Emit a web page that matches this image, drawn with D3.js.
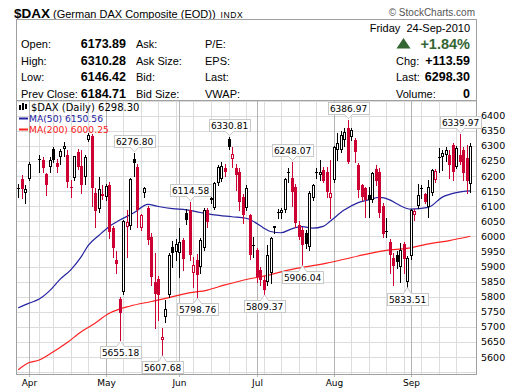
<!DOCTYPE html>
<html><head><meta charset="utf-8">
<script src="https://cdn.jsdelivr.net/npm/d3@7"></script>
<style>body{margin:0;background:#fff}svg{display:block}</style>
</head><body>
<svg id="c" width="520" height="391"></svg>
<script>
// ---------------- data ----------------
const firstDay = "2010-03-29";
const lastDay = "2010-09-24";
const holidays = ["2010-04-02", "2010-04-05"];
const padDays = 2;

const opens = [6158,6189,6144,6191,6254,6253,6207,6231,6288,6243,6262,6288,6270,6160,6192,6280,6233,6198,6320,6333,
6145,6090,6140,6131,6170,6027,5921,5791,5815,6030,6035,6255,6230,6027,6145,6093,5999,5850,5858,5658,
5734,5805,5966,5949,5945,5988,6076,6087,5877,5921,5899,5960,6087,6120,6093,6176,6190,6225,6322,6255,
6225,6214,6131,6095,6071,5968,5955,5888,5855,5850,5877,6027,6080,6076,6087,6210,6192,6165,6037,6020,
6010,5966,6126,6212,6205,6220,6215,6126,6187,6286,6286,6320,6358,6328,6319,6236,6170,6159,6137,6120,
6222,6212,6100,6017,5982,5927,5938,5899,5975,5848,5935,6071,6100,6157,6140,6098,6143,6187,6262,6264,
6270,6270,6303,6231,6270,6286,6259,6173.89];
const highs = [6172,6203,6170,6248,6270,6264,6210,6262,6295,6255,6290,6312,6286,6187,6268,6290,6286,6270,6341,6340,
6160,6198,6170,6175,6180,6035,5950,5800,6055,6087,6195,6276.80,6240,6075,6165,6100,6010,5945,5870,5695,
5789,5945,5985,5990,6027,5995,6090,6114.58,5933,5940,5995,6095,6095,6135,6180,6235,6245,6240,6330.81,6297,
6240,6225,6140,6170,6075,5999,5960,5900,5868,5972,5999,6035,6090,6095,6195,6225,6248.07,6175,6050,6030,
6020,6150,6175,6225,6253,6230,6230,6253,6300,6341,6350,6360,6386.97,6360,6325,6242,6175,6165,6165,6215,
6235,6228,6110,6060,5990,5944,5950,5977,5982,5935,6092,6092,6175,6170,6143,6187,6222,6222,6292,6286,
6295,6286,6309,6300,6339.97,6295,6303,6310.28];
const lows = [6131,6126,6110,6187,6214,6214,6137,6215,6248,6215,6240,6268,6165,6131,6188,6222,6143,6175,6315,6100,
6030,6082,6125,6120,5995,5930,5880,5655.18,5810,5933,6025,6200,6030,6020,6130,5975,5840,5695,5722,5607.68,
5717,5800,5900,5920,5866,5888,6040,5920,5833,5798.76,5880,5955,6030,6110,6090,6170,6185,6200,6290,6231,
6154,6087,6043,6088,5925,5932,5850,5840,5809.37,5838,5844,6010,6060,6060,6080,6180,6100,6030,5990,5906.04,
5960,5955,6120,6195,6187,6180,6130,6060,6180,6253,6280,6300,6242,6320,6248,6132,6120,6065,6065,6115,
6170,6065,5998,5999,5880,5838,5895,5850,5880,5833.51,5925,6055,6093,6126,6110,6065,6137,6180,6215,6220,
6250,6192,6187,6225,6240,6187,6143,6146.42];
const closes = [6160,6156,6158,6240,6256,6225,6171,6252,6254,6231,6283,6298,6181,6165,6266,6231,6170,6262,6336,6160,
6085,6158,6135,6166,6015,5960,5908,5745,6050,6046,6189,6243,6087,6071,6159,5988,5866,5810,5805,5667,
5758,5938,5946,5975,5982,5925,6054,5938,5905,5872,5988,6087,6049,6126,6176,6231,6233,6214,6295,6272,
6203,6115,6071,6160,5938,5971,5866,5855,5822,5938,5993,6034,6082,6086,6190,6212,6148,6043,5999,5970,
5975,6143,6170,6214,6215,6185,6148,6144,6297,6308,6336,6345,6248,6353,6281,6154,6131,6120,6122,6209,
6185,6078,6008,6019,5938,5903,5916,5955,5925,5928,6087,6084,6137,6159,6115,6165,6220,6217,6264,6277,
6285,6237,6214,6292,6248,6209,6184.71,6298.30];

const ma50Dates = ["2010-03-29","2010-04-01","2010-04-06","2010-04-09","2010-04-14","2010-04-19","2010-04-22","2010-04-26",
"2010-04-29","2010-05-04","2010-05-07","2010-05-13","2010-05-19","2010-05-24","2010-05-28","2010-06-03","2010-06-09",
"2010-06-15","2010-06-22","2010-06-28","2010-06-30","2010-07-05","2010-07-07","2010-07-12","2010-07-15","2010-07-20",
"2010-07-23","2010-07-28","2010-07-30","2010-08-05","2010-08-11","2010-08-16","2010-08-19","2010-08-24","2010-08-26",
"2010-09-01","2010-09-08","2010-09-14","2010-09-20","2010-09-24"];
const ma50Values = [5763,5778,5792,5820,5858,5889,5933,5970,6003,6033,6054,6078,6106,6099,6092,6088,6079,
6071,6065,6060,6050,6028,6016,6012,6025,6032,6027,6033,6050,6087,6112,6121,6129,6121,6108,
6090,6096,6130,6145,6150.56];

const ma200Dates = ["2010-03-29","2010-04-01","2010-04-06","2010-04-09","2010-04-16","2010-04-22","2010-04-27","2010-05-04",
"2010-05-12","2010-05-20","2010-05-27","2010-06-03","2010-06-11","2010-06-18","2010-06-28","2010-07-05","2010-07-14",
"2010-07-29","2010-08-11","2010-08-24","2010-09-01","2010-09-08","2010-09-16","2010-09-24"];
const ma200Values = [5558,5581,5590,5610,5648,5684,5705,5745,5769,5784,5797,5811,5822,5839,5857,5868,5888,
5911,5935,5955,5962,5975,5986,6000.25];

const priceTicks = [5600,5650,5700,5750,5800,5850,5900,5950,6000,6050,6100,6150,6200,6250,6300,6350,6400];
const gridValues = [5550,5600,5650,5700,5750,5800,5850,5900,5950,6000,6050,6100,6150,6200,6250,6300,6350,6400,6450];
const monthNames = ["Apr","May","Jun","Jul","Aug","Sep"];

const noteDates = ["2010-05-07","2010-05-13","2010-05-25","2010-06-04","2010-06-08","2010-06-21",
"2010-07-05","2010-07-15","2010-07-20","2010-08-06","2010-08-31","2010-09-21"];
const noteValues = [5655.18,6276.80,5607.68,6114.58,5798.76,6330.81,5809.37,6248.07,5906.04,6386.97,5833.51,6339.97];
const noteKinds = ["low","high","low","high","low","high","low","high","low","high","low","high"];

const headerRows = [
  ["Open:", "6173.89", "Ask:", "P/E:"],
  ["High:", "6310.28", "Ask Size:", "EPS:"],
  ["Low:", "6146.42", "Bid:", "Last:"],
  ["Prev Close:", "6184.71", "Bid Size:", "VWAP:"]
];
const rightRows = [["Chg:", "+113.59"], ["Last:", "6298.30"], ["Volume:", "0"]];

// ---------------- calendar ----------------
const fmt = d3.utcFormat("%Y-%m-%d");
const parse = d3.utcParse("%Y-%m-%d");
const allDays = d3.utcDay.range(parse(firstDay), d3.utcDay.offset(parse(lastDay), 1))
  .filter(d => d.getUTCDay() > 0 && d.getUTCDay() < 6).map(fmt);
const slotOf = new Map(allDays.map((d, i) => [d, i]));
const tradingDays = allDays.filter(d => !holidays.includes(d));

// ---------------- layout ----------------
const svg = d3.select("#c");
const W = 520, H = 391;
const plot = {l: 16.5, r: 476.5, t: 100.5, b: 374.5};
const RED = "#cc0033", BLACK = "#000", BLUE = "#2424a0", MARED = "#ff2020";
const sans = "Liberation Sans, Arial, sans-serif";
const vsans = "DejaVu Sans, Verdana, sans-serif";

const x = d3.scaleLinear().domain([0, allDays.length - 1]).range([18.2, 18.2 + 3.505 * (allDays.length - 1)]);
const y = d3.scaleLinear().domain([5550, 6400]).range([372.1, 115.7]);
const px = d => x(slotOf.get(d));

svg.append("rect").attr("width", W).attr("height", H).attr("fill", "#fff");

// ---------------- header ----------------
const title = svg.append("text").attr("x", 14).attr("y", 18).attr("font-family", sans).attr("fill", "#000");
title.append("tspan").attr("font-size", 13.5).attr("font-weight", "bold").text("$DAX");
title.append("tspan").attr("font-size", 11).attr("dx", 3).text("(German DAX Composite (EOD))");
title.append("tspan").attr("font-size", 8.5).attr("dx", 5).attr("letter-spacing", 0.6).text("INDX");

svg.append("text").attr("x", 475).attr("y", 16).attr("text-anchor", "end")
  .attr("font-family", sans).attr("font-size", 10).attr("fill", "#555").text("© StockCharts.com");

svg.append("rect").attr("x", 16.5).attr("y", 19.5).attr("width", 460).attr("height", 81)
  .attr("fill", "none").attr("stroke", "#a0a0a0");

const rowY = [48, 64.5, 81, 97.5];
headerRows.forEach((r, i) => {
  const g = svg.append("g").attr("font-family", sans).attr("fill", "#000");
  g.append("text").attr("x", 21).attr("y", rowY[i]).attr("font-size", 11).text(r[0]);
  g.append("text").attr("x", 126).attr("y", rowY[i]).attr("font-size", 12.5).attr("font-weight", "bold")
    .attr("text-anchor", "end").text(r[1]);
  g.append("text").attr("x", 136).attr("y", rowY[i]).attr("font-size", 11).text(r[2]);
  g.append("text").attr("x", 205).attr("y", rowY[i]).attr("font-size", 11).text(r[3]);
});
svg.append("text").attr("x", 470).attr("y", 32).attr("text-anchor", "end").attr("font-family", sans)
  .attr("font-size", 11).attr("xml:space", "preserve").style("white-space", "pre").text("Friday  24-Sep-2010");
svg.append("path").attr("d", "M396.5,48.5 L403.5,38 L410.5,48.5 Z").attr("fill", "#336633");
svg.append("text").attr("x", 470).attr("y", 49).attr("text-anchor", "end").attr("font-family", sans)
  .attr("font-size", 14.5).attr("font-weight", "bold").attr("fill", "#336633").text("+1.84%");
rightRows.forEach((r, i) => {
  svg.append("text").attr("x", 396).attr("y", rowY[i + 1]).attr("font-family", sans).attr("font-size", 11).text(r[0]);
  svg.append("text").attr("x", 470).attr("y", rowY[i + 1]).attr("text-anchor", "end").attr("font-family", sans)
    .attr("font-size", 12.5).attr("font-weight", "bold").text(r[1]);
});

// ---------------- grid ----------------
const grid = svg.append("g").attr("shape-rendering", "crispEdges");
gridValues.forEach(v => {
  const yy = Math.round(y(v)) + 0.5;
  if (yy > plot.t && yy < plot.b)
    grid.append("line").attr("x1", plot.l).attr("x2", plot.r).attr("y1", yy).attr("y2", yy).attr("stroke", "#dcdcdc");
});
// weekly lines (first trading day of each week) and month lines
const monthFirst = [], weekFirst = [];
tradingDays.forEach((d, i) => {
  const prev = tradingDays[i - 1];
  if (!prev) return;
  if (d.slice(0, 7) !== prev.slice(0, 7)) monthFirst.push(d);
  else if (d3.utcMonday.floor(parse(d)).getTime() !== d3.utcMonday.floor(parse(prev)).getTime()) weekFirst.push(d);
});
weekFirst.forEach(d => {
  const xx = Math.round(px(d)) + 0.5;
  grid.append("line").attr("x1", xx).attr("x2", xx).attr("y1", plot.t).attr("y2", plot.b).attr("stroke", "#dcdcdc");
});
monthFirst.forEach((d, i) => {
  const xx = Math.round(px(d)) + 0.5;
  grid.append("line").attr("x1", xx).attr("x2", xx).attr("y1", plot.t).attr("y2", plot.b + 2).attr("stroke", "#b4b4b4");
  svg.append("text").attr("x", xx).attr("y", 386).attr("text-anchor", "middle").attr("font-family", vsans)
    .attr("font-size", 9).attr("fill", "#000").text(monthNames[i]);
});

// ---------------- moving averages ----------------
const line = d3.line().x(d => px(d[0])).y(d => y(d[1])).curve(d3.curveMonotoneX);
svg.append("path").datum(ma200Dates.map((d, i) => [d, ma200Values[i]])).attr("d", line)
  .attr("fill", "none").attr("stroke", MARED).attr("stroke-width", 1.2);
svg.append("path").datum(ma50Dates.map((d, i) => [d, ma50Values[i]])).attr("d", line)
  .attr("fill", "none").attr("stroke", BLUE).attr("stroke-width", 1.2);

// ---------------- candles ----------------
const cg = svg.append("g").attr("shape-rendering", "crispEdges");
tradingDays.forEach((d, i) => {
  const o = opens[i], h = highs[i], l = lows[i], c = closes[i];
  const pc = i > 0 ? closes[i - 1] : c;
  const col = c >= pc ? BLACK : RED;
  const cx = Math.round(px(d));
  cg.append("line").attr("x1", cx + 0.5).attr("x2", cx + 0.5).attr("y1", Math.round(y(h))).attr("y2", Math.round(y(l)) + 1)
    .attr("stroke", col);
  const top = Math.round(y(Math.max(o, c))), bot = Math.round(y(Math.min(o, c)));
  const hh = Math.max(1, bot - top);
  if (c < o) {
    cg.append("rect").attr("x", cx - 1).attr("y", top).attr("width", 3).attr("height", hh).attr("fill", col);
  } else if (hh <= 2) {
    cg.append("rect").attr("x", cx - 1).attr("y", top).attr("width", 3).attr("height", Math.max(1, hh)).attr("fill", col);
  } else {
    cg.append("rect").attr("x", cx - 0.5).attr("y", top + 0.5).attr("width", 2).attr("height", hh - 1)
      .attr("fill", "#fff").attr("stroke", col);
  }
});

// ---------------- frame & axis ----------------
svg.append("rect").attr("x", plot.l).attr("y", plot.t).attr("width", plot.r - plot.l).attr("height", plot.b - plot.t)
  .attr("fill", "none").attr("stroke", "#a0a0a0").attr("shape-rendering", "crispEdges");
priceTicks.forEach(v => {
  svg.append("text").attr("x", 481).attr("y", y(v) + 3.5).attr("font-family", vsans).attr("font-size", 9.5)
    .attr("fill", "#000").text(v);
});

// ---------------- price notes ----------------
const ng = svg.append("g");
noteDates.forEach((d, i) => {
  const cx = Math.round(px(d)) + 0.5;
  const py = y(noteValues[i]);
  const isHigh = noteKinds[i] === "high";
  const bh = 12;
  const edge = isHigh ? Math.round(py - 6) + 0.5 : Math.round(py + 6) + 0.5;
  const by = isHigh ? edge - bh : edge;
  const t = ng.append("text").attr("font-family", vsans).attr("font-size", 9).attr("fill", "#000")
    .attr("text-anchor", "middle").attr("x", cx).attr("y", by + 9.5).text(noteValues[i].toFixed(2));
  const tw = t.node().getComputedTextLength() + 4;
  ng.insert("rect", "text").attr("x", Math.round(cx - tw / 2) + 0.5).attr("y", by).attr("width", Math.round(tw)).attr("height", bh)
    .attr("fill", "#fff").attr("stroke", "#c8c8c8");
  const tip = isHigh ? py - 1 : py + 1;
  ng.append("path").attr("d", `M${cx - 4},${edge} L${cx},${tip} L${cx + 4},${edge}`).attr("fill", "#fff").attr("stroke", "#c8c8c8");
  ng.append("line").attr("x1", cx - 3.5).attr("x2", cx + 3.5).attr("y1", edge).attr("y2", edge).attr("stroke", "#fff");
});

// ---------------- legend ----------------
const lg = svg.append("g").attr("font-family", vsans);
lg.append("rect").attr("x", 19).attr("y", 105).attr("width", 2).attr("height", 5).attr("fill", "#000");
lg.append("rect").attr("x", 22).attr("y", 103).attr("width", 2).attr("height", 7).attr("fill", "#000");
lg.append("rect").attr("x", 25).attr("y", 104).attr("width", 2).attr("height", 5).attr("fill", "#000");
lg.append("text").attr("x", 31).attr("y", 111).attr("font-size", 10).attr("fill", "#000").text("$DAX (Daily) 6298.30");
lg.append("line").attr("x1", 19).attr("x2", 28).attr("y1", 118.5).attr("y2", 118.5).attr("stroke", BLUE).attr("stroke-width", 2);
lg.append("text").attr("x", 29).attr("y", 122).attr("font-size", 9.2).attr("fill", BLUE).text("MA(50) 6150.56");
lg.append("line").attr("x1", 19).attr("x2", 28).attr("y1", 129.5).attr("y2", 129.5).attr("stroke", MARED).attr("stroke-width", 2);
lg.append("text").attr("x", 29).attr("y", 133).attr("font-size", 9.2).attr("fill", MARED).text("MA(200) 6000.25");
</script>
</body></html>
